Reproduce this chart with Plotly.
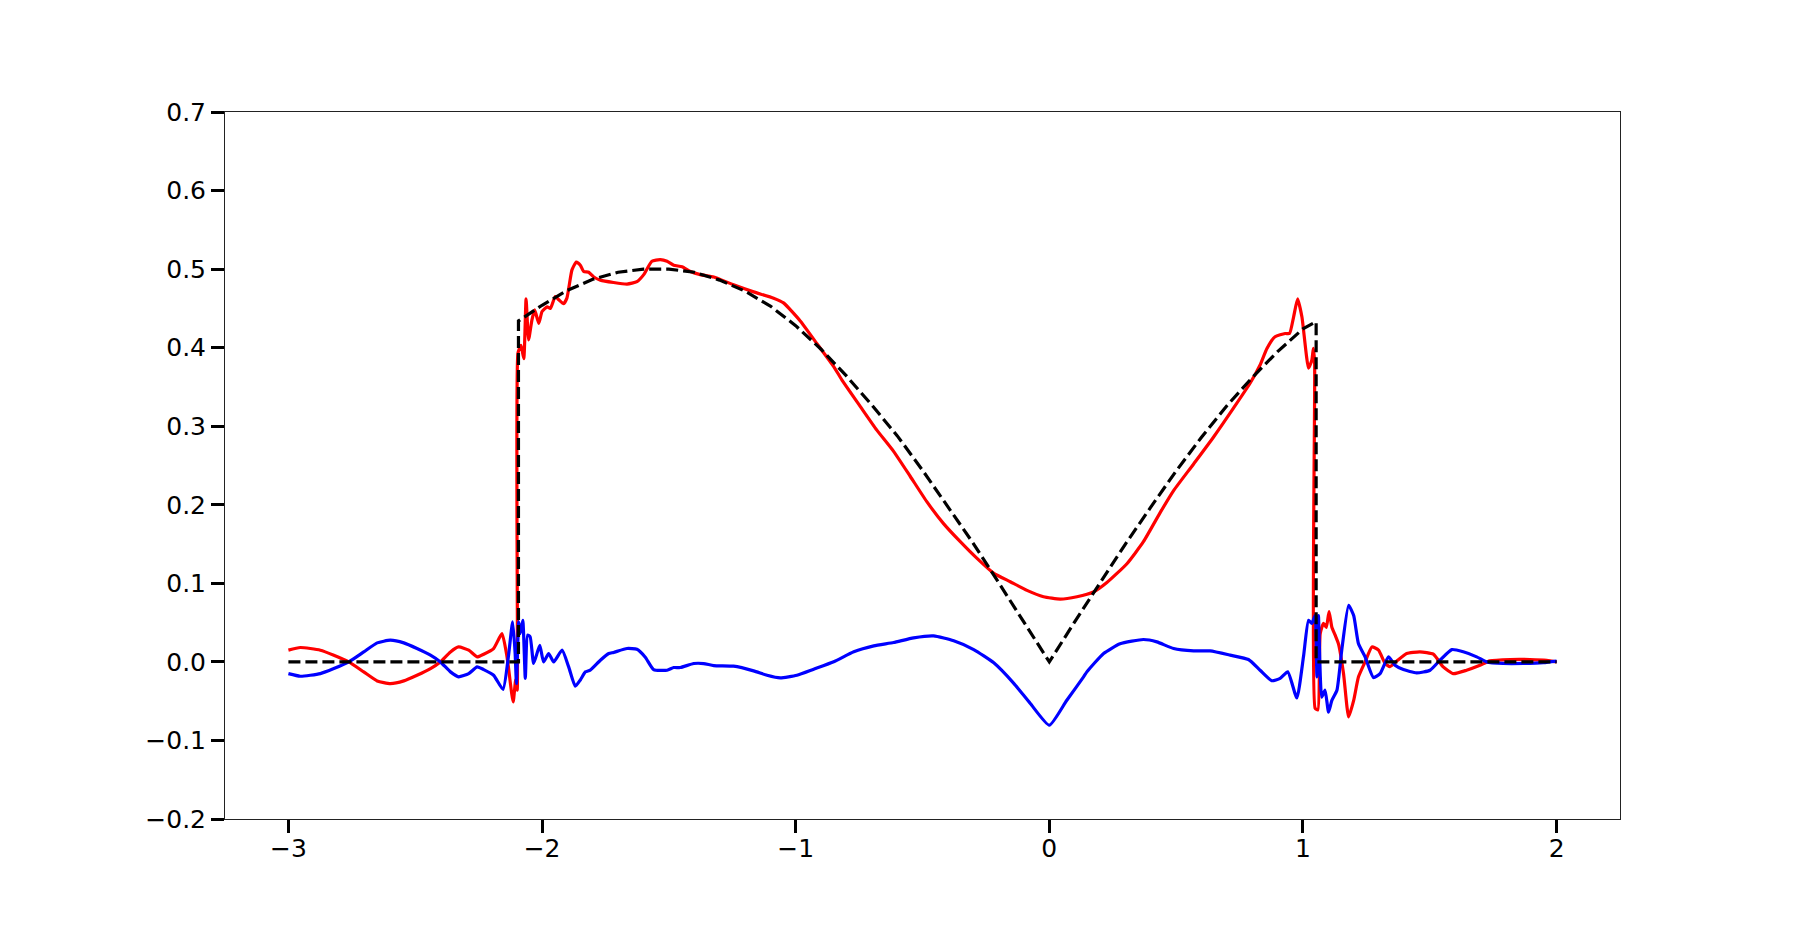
import plotly.graph_objects as go

# numerical solution (red)
num_x = [-3.000, -2.953, -2.874, -2.821, -2.762, -2.703, -2.650, -2.598, -2.545, -2.493,
         -2.440, -2.401, -2.361, -2.329, -2.289, -2.256, -2.230, -2.191, -2.158, -2.138,
         -2.114, -2.104, -2.098, -2.095, -2.083, -2.072, -2.063, -2.053, -2.040, -2.029,
         -2.013, -2.000, -1.980, -1.967, -1.948, -1.934, -1.915, -1.902, -1.882, -1.865,
         -1.849, -1.836, -1.816, -1.796, -1.770, -1.718, -1.665, -1.626, -1.599, -1.567,
         -1.534, -1.507, -1.481, -1.448, -1.415, -1.376, -1.323, -1.245, -1.166, -1.087,
         -1.048, -0.982, -0.916, -0.850, -0.818, -0.745, -0.680, -0.614, -0.548, -0.483,
         -0.417, -0.351, -0.286, -0.220, -0.154, -0.088, -0.023, 0.043, 0.109, 0.174,
         0.227, 0.306, 0.371, 0.437, 0.490, 0.569, 0.647, 0.726, 0.792, 0.831,
         0.858, 0.890, 0.930, 0.947, 0.963, 0.979, 0.996, 1.022, 1.035, 1.041,
         1.046, 1.048, 1.059, 1.068, 1.081, 1.092, 1.103, 1.114, 1.127, 1.140,
         1.160, 1.180, 1.200, 1.219, 1.245, 1.272, 1.298, 1.324, 1.343, 1.370,
         1.409, 1.461, 1.514, 1.553, 1.593, 1.645, 1.698, 1.737, 1.817, 1.895,
         1.961, 2.000]
num_y = [0.015, 0.0183, 0.0149, 0.0085, 0.000, -0.0127, -0.0242, -0.0276, -0.0242, -0.017,
         -0.0085, 0.000, 0.0127, 0.019, 0.0149, 0.0064, 0.0098, 0.017, 0.036, 0.0064,
         -0.051, -0.023, -0.036, 0.393, 0.403, 0.386, 0.462, 0.410, 0.435, 0.448,
         0.431, 0.446, 0.452, 0.450, 0.465, 0.461, 0.456, 0.463, 0.499, 0.509,
         0.505, 0.497, 0.496, 0.490, 0.486, 0.483, 0.481, 0.484, 0.493, 0.510,
         0.512, 0.510, 0.505, 0.503, 0.497, 0.493, 0.490, 0.480, 0.471, 0.463,
         0.457, 0.434, 0.405, 0.376, 0.359, 0.325, 0.295, 0.268, 0.236, 0.204,
         0.176, 0.153, 0.132, 0.113, 0.102, 0.091, 0.083, 0.080, 0.083, 0.089,
         0.101, 0.125, 0.153, 0.190, 0.218, 0.252, 0.286, 0.323, 0.355, 0.378,
         0.399, 0.414, 0.418, 0.418, 0.439, 0.462, 0.439, 0.374, 0.384, 0.399,
         0.380, -0.059, -0.061, 0.036, 0.049, 0.044, 0.064, 0.044, 0.034, 0.023,
         -0.015, -0.070, -0.049, -0.019, 0.000, 0.019, 0.015, -0.002, -0.006, 0.001,
         0.0106, 0.0128, 0.0098, -0.0064, -0.015, -0.0106, -0.0043, 0.0013, 0.003, 0.003,
         0.002, 0.000]

# error (blue)
err_x = [-3.000, -2.953, -2.874, -2.821, -2.762, -2.703, -2.650, -2.598, -2.545, -2.493,
         -2.440, -2.401, -2.361, -2.329, -2.289, -2.256, -2.230, -2.191, -2.154, -2.132,
         -2.116, -2.106, -2.101, -2.092, -2.086, -2.076, -2.066, -2.057, -2.047, -2.033,
         -2.009, -1.994, -1.974, -1.954, -1.921, -1.895, -1.869, -1.849, -1.829, -1.810,
         -1.770, -1.737, -1.718, -1.665, -1.626, -1.593, -1.560, -1.507, -1.481, -1.455,
         -1.402, -1.363, -1.323, -1.245, -1.166, -1.113, -1.061, -0.995, -0.929, -0.850,
         -0.771, -0.692, -0.614, -0.535, -0.456, -0.377, -0.298, -0.219, -0.141, -0.075,
         0.000, 0.069, 0.135, 0.148, 0.214, 0.279, 0.371, 0.424, 0.490, 0.569,
         0.634, 0.713, 0.785, 0.831, 0.877, 0.910, 0.940, 0.976, 1.002, 1.022,
         1.035, 1.048, 1.055, 1.061, 1.074, 1.087, 1.101, 1.114, 1.134, 1.153,
         1.180, 1.200, 1.219, 1.245, 1.278, 1.304, 1.337, 1.363, 1.396, 1.448,
         1.501, 1.540, 1.587, 1.632, 1.685, 1.724, 1.790, 1.869, 1.948, 2.000]
err_y = [-0.015, -0.0183, -0.0149, -0.0085, 0.000, 0.0127, 0.0242, 0.0276, 0.0242, 0.017,
         0.0085, 0.000, -0.0127, -0.019, -0.0149, -0.0064, -0.0098, -0.017, -0.035, 0.0085,
         0.051, 0.0106, -0.0275, 0.051, 0.036, 0.053, -0.021, 0.034, 0.032, -0.002,
         0.021, 0.000, 0.0106, 0.000, 0.015, -0.0064, -0.031, -0.023, -0.0127, -0.0106,
         0.0021, 0.0106, 0.012, 0.017, 0.016, 0.006, -0.0098, -0.0106, -0.0072, -0.0072,
         -0.0021, -0.0021, -0.0047, -0.0055, -0.0114, -0.017, -0.0203, -0.017, -0.0093, 0.0001,
         0.0128, 0.0204, 0.0247, 0.0306, 0.0331, 0.0268, 0.0157, -0.0012, -0.027, -0.053,
         -0.0806, -0.0488, -0.0191, -0.0127, 0.0107, 0.023, 0.0285, 0.0255, 0.017, 0.014,
         0.014, 0.0086, 0.003, -0.0106, -0.024, -0.021, -0.0127, -0.046, 0.0064, 0.053,
         0.049, 0.059, -0.019, 0.059, -0.045, -0.036, -0.064, -0.049, -0.036, 0.015,
         0.072, 0.059, 0.023, 0.0064, -0.020, -0.015, 0.0064, -0.0043, -0.0098, -0.014,
         -0.0106, 0.0021, 0.0156, 0.0128, 0.0064, 0.000, -0.002, -0.002, -0.001, 0.001]

# exact solution (black dashed)
exact_x = [-3.0, -2.093, -2.093, -2.0, -1.9, -1.8, -1.7, -1.6, -1.5, -1.4,
           -1.3, -1.2, -1.1, -1.0, -0.9, -0.8, -0.7, -0.6, -0.5, -0.4,
           -0.3, -0.2, -0.1, 0.0, 0.1, 0.2, 0.3, 0.4, 0.5, 0.6,
           0.7, 0.8, 0.9, 1.0, 1.052, 1.052, 2.0]
exact_y = [0.0, 0.0, 0.434, 0.454, 0.473, 0.487, 0.496, 0.500, 0.500, 0.496,
           0.486, 0.472, 0.453, 0.428, 0.398, 0.364, 0.327, 0.288, 0.244, 0.198,
           0.151, 0.101, 0.051, 0.0, 0.051, 0.101, 0.150, 0.197, 0.243, 0.286,
           0.326, 0.362, 0.395, 0.424, 0.433, 0.0, 0.0]

x_ticks = [-3, -2, -1, 0, 1, 2]
x_ticktext = ["\u22123", "\u22122", "\u22121", "0", "1", "2"]
y_ticks = [-0.2, -0.1, 0.0, 0.1, 0.2, 0.3, 0.4, 0.5, 0.6, 0.7]
y_ticktext = ["\u22120.2", "\u22120.1", "0.0", "0.1", "0.2", "0.3", "0.4", "0.5", "0.6", "0.7"]

fig = go.Figure()
fig.add_trace(go.Scatter(x=num_x, y=num_y, mode="lines",
                         line=dict(color="red", width=3.2, shape="spline", smoothing=0.5)))
fig.add_trace(go.Scatter(x=err_x, y=err_y, mode="lines",
                         line=dict(color="blue", width=3.2, shape="spline", smoothing=0.5)))
fig.add_trace(go.Scatter(x=exact_x, y=exact_y, mode="lines",
                         line=dict(color="black", width=3.2, dash="12px,5px")))

axis_style = dict(
    showgrid=False, zeroline=False,
    showline=True, mirror=True, linecolor="#222222", linewidth=1,
    ticks="outside", ticklen=13, tickwidth=3.2, tickcolor="black",
    tickfont=dict(family="DejaVu Sans", size=25, color="black"),
)

# page body has an 8px margin, so the plot area is shifted by that much
fig.update_layout(
    width=1800, height=936,
    margin=dict(l=217, r=188, t=104, b=125),
    paper_bgcolor="white", plot_bgcolor="white",
    showlegend=False,
    xaxis=dict(range=[-3.25, 2.25], tickvals=x_ticks, ticktext=x_ticktext,
               ticklabelstandoff=-6, **axis_style),
    yaxis=dict(range=[-0.2, 0.7], tickvals=y_ticks, ticktext=y_ticktext, **axis_style),
)

fig.write_html("out.html")
